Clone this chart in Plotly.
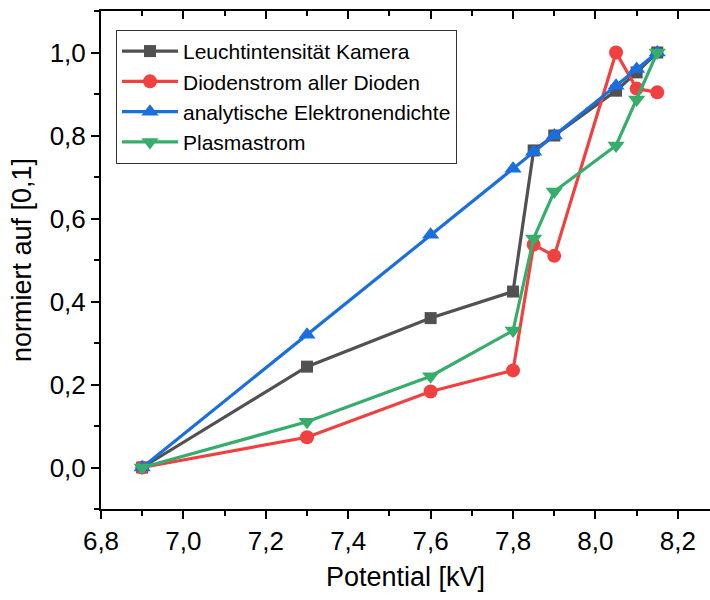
import plotly.graph_objects as go

# Potential in kV
potential = [6.9, 7.3, 7.6, 7.8, 7.85, 7.9, 8.05, 8.1, 8.15]

# normalised measurements on [0,1]
leuchtintensitaet = [0.0, 0.243, 0.360, 0.424, 0.764, 0.800, 0.908, 0.952, 1.0]
diodenstrom = [0.0, 0.073, 0.183, 0.234, 0.537, 0.510, 1.0, 0.913, 0.904]
elektronendichte = [0.0, 0.320, 0.561, 0.720, 0.761, 0.800, 0.920, 0.960, 1.0]
plasmastrom = [0.0, 0.110, 0.220, 0.330, 0.552, 0.665, 0.776, 0.887, 1.0]

names = ["Leuchtintensität Kamera", "Diodenstrom aller Dioden",
         "analytische Elektronendichte", "Plasmastrom"]
colors = ["#515151", "#F14040", "#1A6FDF", "#37AD6B"]
symbols = ["square", "circle", "triangle-up", "triangle-down"]
sizes = [12, 14, 15, 15]
series = [leuchtintensitaet, diodenstrom, elektronendichte, plasmastrom]

FONT = "Liberation Sans, Arial, sans-serif"

fig = go.Figure()
for name, ys, c, s, sz in zip(names, series, colors, symbols, sizes):
    fig.add_trace(go.Scatter(
        x=potential, y=ys, name=name, mode="lines+markers",
        line=dict(color=c, width=3.2),
        marker=dict(symbol=s, size=sz, color=c, line=dict(width=0)),
    ))

x_range = [6.8, 8.278]

fig.update_layout(
    width=710, height=600,
    margin=dict(l=101, r=0, t=11, b=91),
    paper_bgcolor="white", plot_bgcolor="white",
    separators=",.",
    font=dict(family=FONT, color="black"),
    showlegend=True,
    legend=dict(
        x=0.0246, y=0.962, xanchor="left", yanchor="top",
        bgcolor="white", bordercolor="#333333", borderwidth=1,
        font=dict(size=21, family=FONT, color="black"),
        tracegroupgap=0, itemsizing="trace", itemwidth=56,
    ),
    xaxis=dict(
        range=x_range, dtick=0.2, tick0=6.8, tickformat=".1f",
        showgrid=False, zeroline=False,
        showline=True, linecolor="black", linewidth=2,
        ticks="outside", ticklen=8, tickwidth=2, tickcolor="black",
        minor=dict(dtick=0.1, ticks="outside", ticklen=5, tickwidth=2, tickcolor="black"),
        tickfont=dict(size=26),
        title=dict(text="Potential [kV]", font=dict(size=27), standoff=12),
    ),
    xaxis2=dict(
        range=x_range, dtick=0.2, tick0=6.8, overlaying="x", side="top", anchor="y",
        showgrid=False, zeroline=False, showticklabels=False,
        showline=True, linecolor="black", linewidth=2,
        ticks="inside", ticklen=8, tickwidth=2, tickcolor="black",
        minor=dict(dtick=0.1, ticks="inside", ticklen=5, tickwidth=2, tickcolor="black"),
    ),
    yaxis=dict(
        range=[-0.1, 1.1], dtick=0.2, tick0=0, tickformat=".1f",
        showgrid=False, zeroline=False,
        showline=True, linecolor="black", linewidth=2,
        ticks="outside", ticklen=8, tickwidth=2, tickcolor="black",
        minor=dict(dtick=0.1, ticks="outside", ticklen=5, tickwidth=2, tickcolor="black"),
        tickfont=dict(size=26),
        title=dict(text="normiert auf [0,1]", font=dict(size=27), standoff=10),
    ),
)

# invisible trace so the top axis is drawn
fig.add_trace(go.Scatter(x=[x_range[0]], y=[0], xaxis="x2", mode="markers",
                         marker=dict(opacity=0), showlegend=False, hoverinfo="skip"))

fig.write_html("out.html")
